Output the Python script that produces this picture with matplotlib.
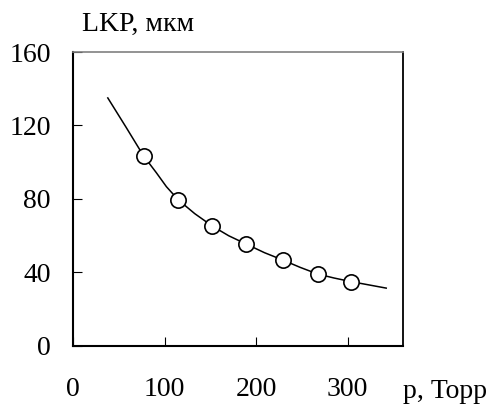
import matplotlib
matplotlib.use("Agg")
import matplotlib.pyplot as plt

# measured points (circles)
p_points = [77, 115, 152, 189, 229, 267, 304]
lkp_points = [103.5, 79.5, 65.3, 55.5, 46.8, 39.2, 35.0]

# smooth curve drawn through the points
p_curve = [38, 58, 77, 91, 102, 115, 133, 152, 170, 189, 209, 229, 248, 267, 285, 304, 342]
lkp_curve = [135, 119, 103.5, 94.3, 86.7, 79.5, 72.0, 65.3, 60.0, 55.5, 50.8, 46.8, 42.8, 39.2, 37.0, 35.0, 31.5]

x_ticks = [0, 100, 200, 300]
y_ticks = [0, 40, 80, 120, 160]

plt.rcParams["font.family"] = ["Liberation Serif", "DejaVu Serif"]

fig = plt.figure(figsize=(4.89, 4.05), dpi=100)
ax = fig.add_axes([0.1493, 0.1457, 0.6742, 0.7259])

ax.plot(p_curve, lkp_curve, color="black", lw=1.1, zorder=2)
ax.plot(p_points, lkp_points, linestyle="none", marker="o", markersize=11,
        markerfacecolor="white", markeredgecolor="black", markeredgewidth=1.2, zorder=3)

ax.set_xlim(0, 360)
ax.set_ylim(0, 160)
ax.set_xticks(x_ticks)
ax.set_yticks(y_ticks)
ax.tick_params(axis="x", direction="in", length=6.5, width=0.8, pad=22.5, labelsize=20)
ax.tick_params(axis="y", direction="in", length=6.5, width=0.8, pad=16, labelsize=20)

ax.spines["left"].set_linewidth(1.5)
ax.spines["bottom"].set_linewidth(1.5)
ax.spines["right"].set_linewidth(1.3)
ax.spines["top"].set_linewidth(1.2)
ax.spines["top"].set_color("#808080")

fig.text(0.168, 0.924, "LKP, мкм", fontsize=20, ha="left", va="baseline")
fig.text(0.824, 0.0165, "p, Торр", fontsize=20, ha="left", va="baseline")

fig.savefig("out.png", dpi=100)
